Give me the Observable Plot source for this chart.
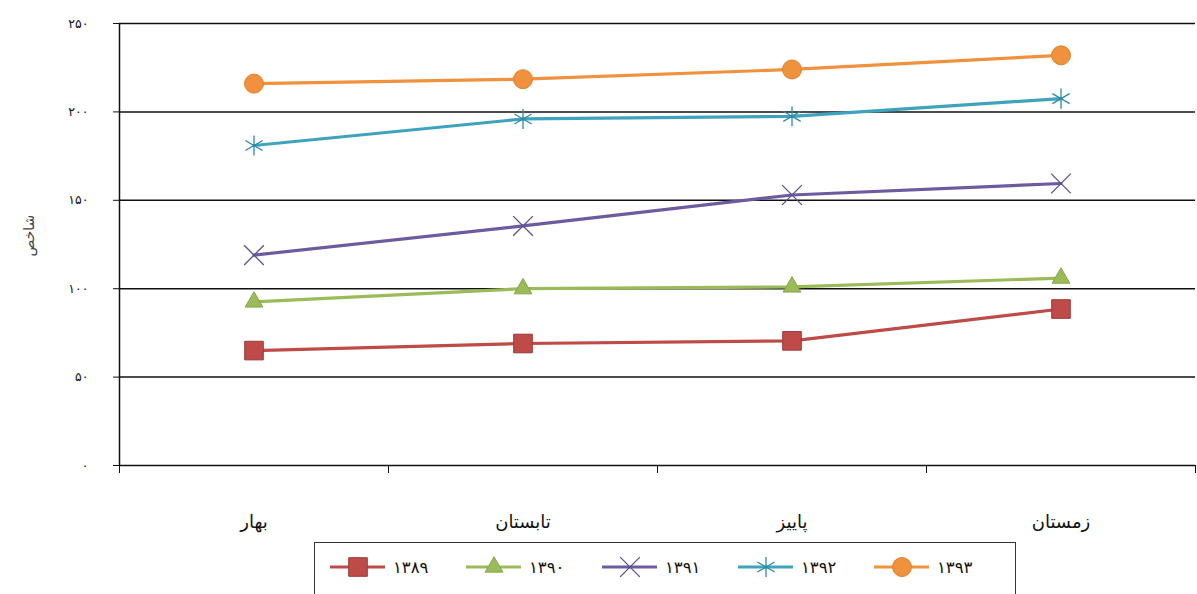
<!DOCTYPE html>
<html><head><meta charset="utf-8">
<script src="https://cdn.jsdelivr.net/npm/d3@7"></script>
<script src="https://cdn.jsdelivr.net/npm/@observablehq/plot@0.6"></script>
<style>
body{margin:0;background:#fff;font-family:"DejaVu Sans",sans-serif;}
#wrap{position:relative;width:1197px;height:594px;overflow:hidden;background:#fff;}
#legend{position:absolute;left:314px;top:542px;width:702px;height:80px;border:1.5px solid #333;box-sizing:border-box;}
</style></head><body><div id="wrap"><div id="chart"></div><div id="legend"></div></div>
<script>
const seasons = ["بهار","تابستان","پاییز","زمستان"];
const years = ["۱۳۸۹","۱۳۹۰","۱۳۹۱","۱۳۹۲","۱۳۹۳"];
const v1389 = [65, 69, 70.5, 88.5];
const v1390 = [92.5, 100, 101, 106];
const v1391 = [119, 135.5, 153, 159.5];
const v1392 = [181, 196, 197.5, 207.5];
const v1393 = [216, 218.5, 224, 232];
const yTicks = [0, 50, 100, 150, 200, 250];
const yTickLabels = ["۰","۵۰","۱۰۰","۱۵۰","۲۰۰","۲۵۰"];
const yTitle = "شاخص";
const colors = ["#BE4B48","#9BBB59","#6E5A9E","#3FA3BE","#F0913E"];
const markerStroke = ["#9E3A38","#86A64A","#5E4E8E","#2E8AA6","#E0822E"];
const symbols = ["square","triangle","times","asterisk","circle"];
const radii = [10.5, 6.6, 9, 9.5, 9.5];

const series = [v1389, v1390, v1391, v1392, v1393];
const rows = [];
series.forEach((vals, k) => vals.forEach((v, i) => rows.push({year: years[k], k, i, season: seasons[i], value: v})));

const marks = [
  Plot.ruleY(yTicks, {y: d => d, stroke: "#111", strokeWidth: 1.5}),
  Plot.ruleX([0], {stroke: "#111", strokeWidth: 1.5}),
  Plot.axisY({ticks: yTicks, tickFormat: d => yTickLabels[yTicks.indexOf(d)], tickSize: 6, tickPadding: 25, fontSize: 12.5, label: null, stroke: "#111"}),
  Plot.axisX({ticks: [0,1,2,3,4], tickFormat: () => "", tickSize: 8, stroke: "#111", label: null}),
  Plot.axisX({ticks: [0.5,1.5,2.5,3.5], tickFormat: d => seasons[Math.floor(d)], tickSize: 0, tickPadding: 50, fontSize: 18, label: null}),
  Plot.text([yTitle], {frameAnchor: "left", dx: -90, dy: 12, rotate: -90, fontSize: 14, fill: "#444"})
];
series.forEach((vals, k) => {
  const data = rows.filter(r => r.k === k);
  marks.push(Plot.line(data, {x: d => d.i + 0.5, y: "value", stroke: colors[k], strokeWidth: 3.2}));
});
series.forEach((vals, k) => {
  const data = rows.filter(r => r.k === k);
  const stroked = symbols[k] === "times" || symbols[k] === "asterisk";
  marks.push(Plot.dot(data, {x: d => d.i + 0.5, y: "value", symbol: () => symbols[k], r: radii[k],
    fill: stroked ? "none" : colors[k], stroke: markerStroke[k], strokeWidth: stroked ? 1.3 : 1}));
});

const chart = Plot.plot({
  width: 1197, height: 540,
  marginLeft: 119, marginRight: 2, marginTop: 23, marginBottom: 75,
  x: {domain: [0, 4], axis: null},
  y: {domain: [0, 250], axis: null},
  symbol: {type: "identity"},
  style: {fontFamily: "DejaVu Sans, sans-serif", color: "#111", background: "#fff"},
  marks
});
document.getElementById("chart").appendChild(chart);

// legend
const lg = d3.select("#legend").append("svg").attr("width", 700).attr("height", 60)
  .style("font-family", "DejaVu Sans, sans-serif");
years.forEach((y, k) => {
  const x0 = 15 + k * 136;
  const g = lg.append("g").attr("transform", `translate(${x0},24)`);
  g.append("line").attr("x1", 0).attr("x2", 55).attr("y1", 0).attr("y2", 0)
    .attr("stroke", colors[k]).attr("stroke-width", 3.2);
  const symMap = {square: d3.symbolSquare, triangle: d3.symbolTriangle, times: d3.symbolTimes, asterisk: d3.symbolAsterisk, circle: d3.symbolCircle};
  const stroked = symbols[k] === "times" || symbols[k] === "asterisk";
  g.append("path").attr("transform", "translate(28,0)")
    .attr("d", d3.symbol(symMap[symbols[k]], radii[k] * radii[k] * Math.PI)())
    .attr("fill", stroked ? "none" : colors[k]).attr("stroke", markerStroke[k]).attr("stroke-width", stroked ? 1.3 : 1);
  g.append("text").attr("x", 63).attr("y", 0).attr("dy", "0.35em").attr("font-size", 16.5).attr("fill", "#111").text(y);
});
</script></body></html>
